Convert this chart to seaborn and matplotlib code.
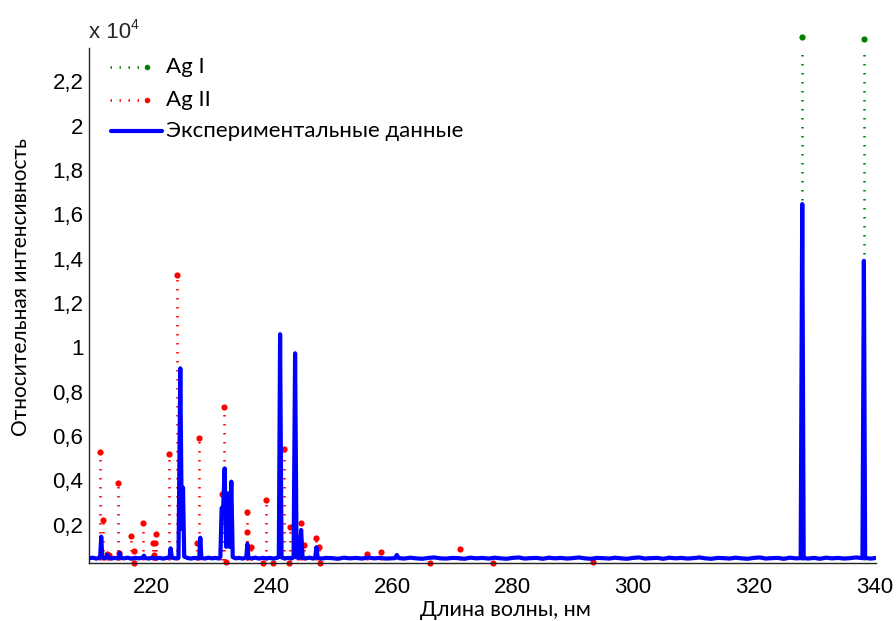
import numpy as np
import pandas as pd
import matplotlib
matplotlib.use("Agg")
import matplotlib.pyplot as plt
from matplotlib.lines import Line2D
import seaborn as sns

# Measured emission spectrum (wavelength in nm, relative intensity)
wavelength_nm = [
    209.7, 210.3, 210.9, 211.4, 211.55, 211.73, 211.9, 212.3, 212.6, 212.75, 212.9,
    213.4, 213.9, 214.4, 214.65, 214.83, 215.0, 215.5, 216.1, 216.7, 217.3, 217.9,
    218.5, 218.7, 218.82, 219.0, 219.6, 220.2, 220.8, 221.4, 222.0, 222.6, 223.05,
    223.24, 223.45, 224.0, 224.55, 224.85, 225.1, 225.3, 225.5, 226.0, 226.6, 227.2,
    227.8, 228.0, 228.17, 228.35, 228.9, 229.5, 230.1, 230.7, 231.3, 231.5, 231.71,
    231.95, 232.21, 232.45, 232.77, 233.0, 233.32, 233.55, 234.0, 234.6, 235.2, 235.8,
    235.98, 236.15, 236.7, 237.3, 237.9, 238.5, 239.1, 239.7, 240.3, 240.9, 241.2,
    241.41, 241.65, 242.2, 242.8, 243.4, 243.65, 243.9, 244.15, 244.6, 244.9, 245.15,
    245.7, 246.3, 246.9, 247.25, 247.44, 247.65, 248.3, 249.0, 250.0, 251.0, 252.0,
    253.0, 254.0, 255.0, 256.0, 257.0, 258.0, 259.0, 260.5, 260.78, 261.1, 262.0,
    263.0, 264.0, 265.0, 266.0, 267.0, 268.0, 269.0, 270.0, 271.0, 272.0, 273.0,
    274.0, 275.0, 276.0, 277.0, 278.0, 279.0, 280.0, 281.0, 282.0, 283.0, 284.0,
    285.0, 286.0, 287.0, 288.0, 289.0, 290.0, 291.0, 292.0, 293.0, 294.0, 295.0,
    296.0, 297.0, 298.0, 299.0, 300.0, 301.0, 302.0, 303.0, 304.0, 305.0, 306.0,
    307.0, 308.0, 309.0, 310.0, 311.0, 312.0, 313.0, 314.0, 315.0, 316.0, 317.0,
    318.0, 319.0, 320.0, 321.0, 322.0, 323.0, 324.0, 325.0, 326.0, 327.0, 327.8,
    328.06, 328.3, 329.0, 330.0, 331.0, 332.0, 333.0, 334.0, 335.0, 336.0, 337.0,
    338.05, 338.29, 338.5, 339.0, 339.5, 340.3,
]
intensity = [
    480, 510, 470, 500, 520, 1460, 520, 480, 540, 640, 520,
    470, 500, 480, 520, 720, 500, 480, 510, 470, 500, 480,
    500, 540, 600, 500, 470, 510, 480, 500, 470, 500, 520,
    930, 510, 480, 500, 9050, 1800, 3670, 560, 500, 470, 500,
    480, 520, 1410, 500, 470, 510, 480, 500, 470, 540, 2750,
    2600, 4540, 1000, 3410, 1000, 3940, 540, 480, 500, 470, 520,
    1130, 500, 480, 510, 470, 500, 480, 500, 470, 500, 540,
    10590, 520, 480, 500, 480, 540, 9730, 520, 500, 1760, 500,
    480, 510, 470, 510, 980, 500, 470, 500, 490, 460, 510,
    480, 500, 470, 520, 480, 500, 470, 490, 630, 490, 470,
    510, 480, 460, 500, 520, 480, 470, 500, 490, 460, 510,
    480, 500, 470, 510, 480, 460, 500, 520, 470, 490, 500,
    460, 510, 480, 500, 470, 490, 520, 480, 460, 500, 490,
    470, 510, 480, 460, 500, 520, 470, 490, 500, 460, 510,
    480, 500, 470, 490, 520, 480, 460, 500, 490, 470, 510,
    480, 460, 500, 520, 470, 490, 500, 460, 510, 480, 490,
    16460, 490, 470, 500, 460, 510, 480, 500, 470, 490, 520,
    490, 13900, 500, 480, 470, 500,
]

# Reference lines: neutral silver (Ag I) and singly ionised silver (Ag II)
ag1_nm = [328.06, 338.29]
ag1_height = [23990, 23900]

ag2_nm = [
    211.45, 212.06, 212.72, 213.0, 214.55, 214.65, 216.66, 217.16, 217.22, 218.7,
    220.25, 220.48, 220.65, 220.86, 222.97, 224.3, 227.56, 228.0, 231.71, 232.04,
    232.44, 235.86, 235.93, 236.53, 238.64, 239.09, 240.3, 242.08, 242.84, 243.0,
    244.4, 244.83, 245.4, 247.39, 247.82, 248.06, 255.8, 258.12, 266.3, 271.25,
    276.8, 293.3,
]
ag2_height = [
    5290, 2210, 660, 620, 3890, 735, 1490, 825, 280, 2090,
    1190, 620, 1190, 1590, 5200, 13250, 1190, 5900, 3400, 7310,
    330, 1680, 2585, 1000, 290, 3100, 290, 5400, 290, 1880,
    1380, 2090, 1080, 1380, 980, 290, 660, 780, 280, 900,
    270, 300,
]

x_ticks = [220, 240, 260, 280, 300, 320, 340]
y_ticks = [2000, 4000, 6000, 8000, 10000, 12000, 14000, 16000, 18000, 20000, 22000]
y_tick_labels = ["0,2", "0,4", "0,6", "0,8", "1", "1,2", "1,4", "1,6", "1,8", "2", "2,2"]

spectrum = pd.DataFrame({"wl": wavelength_nm, "I": intensity})
ag1 = pd.DataFrame({"wl": ag1_nm, "I": ag1_height})
ag2 = pd.DataFrame({"wl": ag2_nm, "I": ag2_height})

sns.set_style("white")
plt.rcParams["font.family"] = ["Liberation Sans", "DejaVu Sans"]

W, H = 896, 621
fig = plt.figure(figsize=(W / 100, H / 100), dpi=100)
ax = fig.add_axes([89 / W, 1 - 563 / H, (876 - 89) / W, (563 - 48) / H])

GREEN = "#008000"
RED = "#ff0000"
BLUE = "#0000ff"
dotted = (0, (0.6, 3.0))

# stems of the reference lines
ax.vlines(ag2["wl"], 0, ag2["I"], colors=RED, linestyles=[dotted], linewidth=1.8, zorder=2)
ax.vlines(ag1["wl"], 0, ag1["I"], colors=GREEN, linestyles=[dotted], linewidth=1.8, zorder=2)
sns.scatterplot(data=ag2, x="wl", y="I", ax=ax, color=RED, s=20, linewidth=0,
                zorder=2, clip_on=False, legend=False)
sns.scatterplot(data=ag1, x="wl", y="I", ax=ax, color=GREEN, s=20, linewidth=0,
                zorder=2, clip_on=False, legend=False)

# experimental spectrum
sns.lineplot(data=spectrum, x="wl", y="I", ax=ax, color=BLUE, linewidth=3.0,
             estimator=None, sort=False, zorder=3)

ax.set_xlim(209.7, 340.3)
ax.set_ylim(270, 23500)
ax.set_xticks(x_ticks)
ax.set_xticklabels([str(t) for t in x_ticks])
ax.set_yticks(y_ticks)
ax.set_yticklabels(y_tick_labels)

for side in ("top", "right"):
    ax.spines[side].set_visible(False)
for side in ("left", "bottom"):
    ax.spines[side].set_color("#262626")
    ax.spines[side].set_linewidth(1.0)

ax.tick_params(axis="both", direction="in", length=5, width=0.8, color="#262626",
               labelsize=16, labelcolor="black")
ax.tick_params(axis="y", pad=4)
ax.tick_params(axis="x", pad=10)

label_font = ["Lato", "DejaVu Sans"]
ax.set_xlabel("Длина волны, нм", fontsize=15.5, family=label_font, color="black")
ax.set_ylabel("Относительная интенсивность", fontsize=15, family=label_font, color="black")
ax.xaxis.set_label_coords((505.5 - 89) / (876 - 89), (563 - 610) / (563 - 48), transform=ax.transAxes)
ax.xaxis.label.set_va("center")
ax.yaxis.set_label_coords((21 - 89) / (876 - 89), (563 - 287.5) / (563 - 48), transform=ax.transAxes)
ax.yaxis.label.set_va("center")

# exponent marker above the y axis
fig.text(89 / W, 1 - 33 / H, "x 10", fontsize=16, va="center", ha="left")
fig.text(131 / W, 1 - 25 / H, "4", fontsize=10, va="center", ha="left")

# legend drawn in figure pixel coordinates
def fx(px):
    return px / W

def fy(py):
    return 1 - py / H

legend_rows = [
    (67, GREEN, "Ag I", "stem"),
    (100, RED, "Ag II", "stem"),
    (131, BLUE, "Экспериментальные данные", "line"),
]
for py, col, text, kind in legend_rows:
    if kind == "stem":
        fig.add_artist(Line2D([fx(110), fx(147)], [fy(py), fy(py)], color=col,
                              linestyle=dotted, linewidth=1.8))
        fig.add_artist(Line2D([fx(147)], [fy(py)], color=col, marker="o",
                              markersize=4, markeredgewidth=0, linestyle="none"))
    else:
        fig.add_artist(Line2D([fx(111), fx(162)], [fy(py), fy(py)], color=col,
                              linewidth=3.0))
    fig.text(fx(166), fy(py), text, fontsize=16, family=label_font, va="center",
             ha="left", color="black")

fig.savefig("out.png", dpi=100)
